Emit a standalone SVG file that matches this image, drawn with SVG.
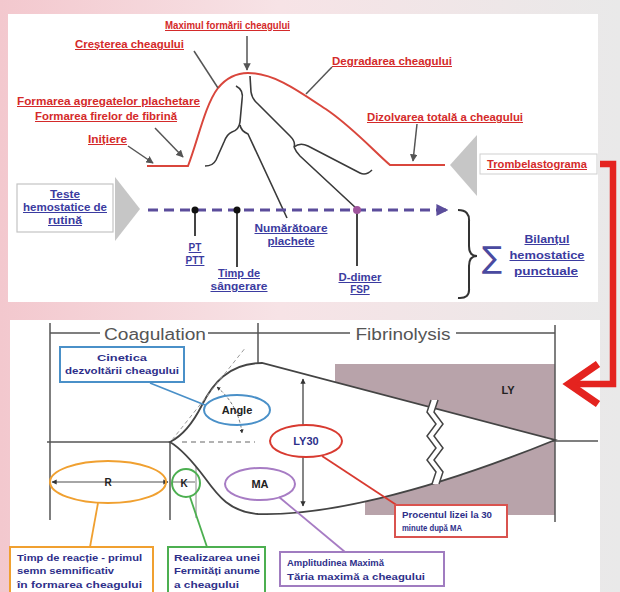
<svg xmlns="http://www.w3.org/2000/svg" width="620" height="592" viewBox="0 0 620 592">
<defs>
<linearGradient id="bg" x1="0" y1="0" x2="1" y2="0">
<stop offset="0" stop-color="#f3c8ce"/>
<stop offset="0.45" stop-color="#f7e3e6"/>
<stop offset="1" stop-color="#e9e9e9"/>
</linearGradient>
<marker id="ah" viewBox="0 0 10 10" refX="9" refY="5" markerWidth="5" markerHeight="5" orient="auto-start-reverse"><path d="M0,0 L10,5 L0,10 z" fill="#555"/></marker>
<marker id="ahs" viewBox="0 0 10 10" refX="9" refY="5" markerWidth="4" markerHeight="4" orient="auto-start-reverse"><path d="M0,0 L10,5 L0,10 z" fill="#333"/></marker>
<marker id="ahb" viewBox="0 0 10 10" refX="8" refY="5" markerWidth="4" markerHeight="4" orient="auto"><path d="M0,0 L10,5 L0,10 z" fill="#5b4d9b"/></marker>
</defs>
<style>
text{font-family:"Liberation Sans",Arial,sans-serif}
.rl{font-weight:bold;font-size:10px;fill:#d42a2a;text-decoration:underline}
.bl{font-weight:bold;font-size:10px;fill:#3b3ba0;text-decoration:underline;text-anchor:middle}
.nv{font-weight:bold;font-size:9.5px;fill:#2e2f8a}
.el{font-weight:bold;font-size:11px;fill:#222;text-anchor:middle}
.hd{font-size:16px;fill:#555;text-anchor:middle}
.lead{stroke:#555;stroke-width:1.5;fill:none}
.dk{stroke:#3a3a3a;stroke-width:1.6;fill:none}
.ax{stroke:#555;stroke-width:1.5;fill:none}
.thin{stroke:#888;stroke-width:1;fill:none}
</style>

<!-- background -->
<rect x="0" y="0" width="620" height="592" fill="url(#bg)"/>
<rect x="8" y="14" width="590" height="288" fill="#ffffff"/>
<rect x="10" y="320" width="590" height="272" fill="#ffffff"/>

<!-- top: red TEG curve -->
<g id="teg-top">
<path d="M147,166 L188,166 C198,140 205,105 218,88 C228,76 238,73 248,73 C275,73 300,92 330,112 C355,130 375,152 390,165 L445,165" fill="none" stroke="#d9463c" stroke-width="2"/>
<path class="dk" d="M236,86 Q244,90 242,100 L240,122 Q239,130 232,132 Q227,134 224,142 L216,160 Q213,166 205,166"/>
<path class="dk" d="M240,125 Q241,131 248,134 L287,218"/>
<path class="dk" d="M250,76 L251,92 Q252,99 258,104 L290,136 Q296,142 294,147"/>
<path class="dk" d="M294,147 Q300,142 308,146 L360,173 Q366,176 372,170"/>
<path class="dk" d="M294,147 Q296,152 300,156 L357,209"/>
</g>

<g id="lbl-maximul">
<text class="rl" x="165" y="29" textLength="125" lengthAdjust="spacingAndGlyphs">Maximul formării cheagului</text>
<line class="lead" x1="247" y1="36" x2="247" y2="70" marker-end="url(#ah)"/>
</g>
<g id="lbl-crestere">
<text class="rl" x="75" y="48" textLength="109" lengthAdjust="spacingAndGlyphs">Creșterea cheagului</text>
<line class="lead" x1="194" y1="51" x2="218" y2="88"/>
</g>
<g id="lbl-formarea">
<text class="rl" x="17" y="105" textLength="183" lengthAdjust="spacingAndGlyphs">Formarea agregatelor plachetare</text>
<text class="rl" x="35" y="120" textLength="142" lengthAdjust="spacingAndGlyphs">Formarea firelor de fibrină</text>
<line class="lead" x1="155" y1="128" x2="183" y2="157" marker-end="url(#ah)"/>
</g>
<g id="lbl-initiere">
<text class="rl" x="88" y="143" textLength="39" lengthAdjust="spacingAndGlyphs">Inițiere</text>
<line class="lead" x1="128" y1="146" x2="153" y2="163" marker-end="url(#ah)"/>
</g>
<g id="lbl-degradare">
<text class="rl" x="332" y="65" textLength="120" lengthAdjust="spacingAndGlyphs">Degradarea cheagului</text>
<line class="lead" x1="332" y1="67" x2="306" y2="94"/>
</g>
<g id="lbl-dizolvare">
<text class="rl" x="367" y="121" textLength="156" lengthAdjust="spacingAndGlyphs">Dizolvarea totală a cheagului</text>
<line class="lead" x1="417" y1="124" x2="413" y2="161" marker-end="url(#ah)"/>
</g>
<g id="trombelastograma">
<polygon points="450,165 477,135 477,196" fill="#c6c6c6"/>
<rect x="480" y="154" width="117" height="20" fill="#fff" stroke="#cfcfcf" stroke-width="1"/>
<text class="rl" x="487" y="168" textLength="100" lengthAdjust="spacingAndGlyphs">Trombelastograma</text>
</g>

<g id="teste-rutina">
<rect x="17" y="184" width="96" height="48" fill="#fff" stroke="#c4c4c4" stroke-width="1.2"/>
<polygon points="115,177 140,209 115,241" fill="#c6c6c6"/>
<text class="bl" x="65" y="198" textLength="30" lengthAdjust="spacingAndGlyphs">Teste</text>
<text class="bl" x="65" y="211" textLength="84" lengthAdjust="spacingAndGlyphs">hemostatice de</text>
<text class="bl" x="65" y="224" textLength="34" lengthAdjust="spacingAndGlyphs">rutină</text>
</g>

<g id="connectors-top">
<line x1="148" y1="210" x2="446" y2="210" stroke="#5b4d9b" stroke-width="3" stroke-dasharray="10 6" marker-end="url(#ahb)"/>
<line x1="195" y1="212" x2="195" y2="236" stroke="#444" stroke-width="2"/>
<line x1="237" y1="212" x2="237" y2="267" stroke="#444" stroke-width="2"/>
<line x1="357" y1="212" x2="357" y2="266" stroke="#444" stroke-width="2"/>
<circle cx="195" cy="210" r="3.5" fill="#111"/>
<circle cx="237" cy="210" r="3.5" fill="#111"/>
<circle cx="357" cy="210" r="4" fill="#a0559e"/>
<path d="M600,164 L613,164 L613,384 L572,384" fill="none" stroke="#e4231f" stroke-width="6.5"/>
<path d="M598,364 L569,384 L598,404" fill="none" stroke="#e4231f" stroke-width="7.5"/>
</g>

<g id="lbl-pt"><text class="bl" x="195" y="251">PT</text><text class="bl" x="195" y="264">PTT</text></g>
<g id="lbl-timp"><text class="bl" x="239" y="277" textLength="42" lengthAdjust="spacingAndGlyphs">Timp de</text><text class="bl" x="239" y="290" textLength="57" lengthAdjust="spacingAndGlyphs">sângerare</text></g>
<g id="lbl-numaratoare"><text class="bl" x="291" y="232" textLength="73" lengthAdjust="spacingAndGlyphs">Numărătoare</text><text class="bl" x="291" y="245" textLength="47" lengthAdjust="spacingAndGlyphs">plachete</text></g>
<g id="lbl-ddimer"><text class="bl" x="360" y="281" textLength="43" lengthAdjust="spacingAndGlyphs">D-dimer</text><text class="bl" x="360" y="293">FSP</text></g>

<g id="suma">
<path d="M458,210 Q470,210 469,222 L469,246 Q469,256 477,256 Q469,256 469,266 L469,288 Q470,299 458,298" fill="none" stroke="#333" stroke-width="2"/>
<text x="492" y="268" style="font-family:'DejaVu Sans',sans-serif" font-size="30" fill="#4a4aa0" text-anchor="middle">∑</text>
<text class="bl" x="547" y="243" textLength="45" lengthAdjust="spacingAndGlyphs">Bilanțul</text>
<text class="bl" x="547" y="259" textLength="75" lengthAdjust="spacingAndGlyphs">hemostatice</text>
<text class="bl" x="546" y="275" textLength="64" lengthAdjust="spacingAndGlyphs">punctuale</text>
</g>

<!-- bottom: classic TEG -->
<g id="shading">
<rect x="335" y="364" width="220" height="76" fill="#b8a3aa"/>
<rect x="365" y="440" width="190" height="75" fill="#b8a3aa"/>
</g>

<g id="axes">
<line class="ax" x1="50" y1="333" x2="555" y2="333"/>
<line class="ax" x1="50" y1="323" x2="50" y2="520"/>
<line class="ax" x1="258" y1="323" x2="258" y2="512" marker-end="url(#ahs)"/>
<line class="ax" x1="555" y1="325" x2="555" y2="522"/>
<line class="ax" x1="47" y1="442" x2="172" y2="442"/>
<line class="ax" x1="548" y1="441" x2="598" y2="441"/>
<line class="ax" x1="170" y1="442" x2="170" y2="520"/>
<line class="thin" x1="196" y1="462" x2="196" y2="518"/>
<rect x="100" y="324" width="108" height="18" fill="#fff"/>
<text class="hd" x="155" y="340" textLength="102" lengthAdjust="spacingAndGlyphs">Coagulation</text>
<rect x="350" y="324" width="106" height="18" fill="#fff"/>
<text class="hd" x="403" y="340" textLength="95" lengthAdjust="spacingAndGlyphs">Fibrinolysis</text>
</g>

<g id="teg-shape">
<path d="M170,442 C182,436 192,425 202,405 C212,385 228,363 262,363 L555,440 C420,495 320,516 258,514 C230,512 218,496 205,478 C190,458 180,448 170,442 Z" fill="#fff" stroke="#444" stroke-width="1.8"/>
<line x1="182" y1="442" x2="255" y2="442" stroke="#999" stroke-width="1.3" stroke-dasharray="5 4"/>
<line x1="172" y1="440" x2="246" y2="347" stroke="#999" stroke-width="1" stroke-dasharray="4 3"/>
<path d="M217,387 A70,70 0 0 1 242,433" fill="none" stroke="#777" stroke-width="1" stroke-dasharray="3 2" marker-start="url(#ahs)" marker-end="url(#ahs)"/>
<line x1="303" y1="379" x2="303" y2="506" stroke="#444" stroke-width="1.3" marker-start="url(#ahs)" marker-end="url(#ahs)"/>
<polygon points="431,400 427,412 436,424 427,436 436,448 427,460 436,472 432,484 439,484 443,472 434,460 443,448 434,436 443,424 434,412 438,400" fill="#fff"/>
<polyline points="431,400 427,412 436,424 427,436 436,448 427,460 436,472 432,484" fill="none" stroke="#444" stroke-width="1.5"/>
<polyline points="438,400 434,412 443,424 434,436 443,448 434,460 443,472 439,484" fill="none" stroke="#444" stroke-width="1.5"/>
<text class="el" x="508" y="394" font-size="10">LY</text>
</g>

<g id="angle">
<rect x="60" y="347" width="124" height="35" fill="#fff" stroke="#4a90c8" stroke-width="2"/>
<text class="nv" x="122" y="361" text-anchor="middle" textLength="50" lengthAdjust="spacingAndGlyphs">Cinetica</text>
<text class="nv" x="122" y="374" text-anchor="middle" textLength="114" lengthAdjust="spacingAndGlyphs">dezvoltării cheagului</text>
<line x1="150" y1="383" x2="205" y2="405" stroke="#4a90c8" stroke-width="1.8"/>
<ellipse cx="237" cy="410" rx="33" ry="15" fill="none" stroke="#4a90c8" stroke-width="2"/>
<text class="el" x="237" y="414">Angle</text>
</g>

<g id="ly30">
<ellipse cx="306" cy="441" rx="36" ry="16" fill="#fff" stroke="#d83a30" stroke-width="2"/>
<text class="el" x="306" y="445" style="fill:#2e2f8a">LY30</text>
<line x1="322" y1="456" x2="398" y2="506" stroke="#d83a30" stroke-width="1.8"/>
<rect x="395" y="505" width="112" height="32" fill="#fff" stroke="#d9534f" stroke-width="2"/>
<text class="nv" x="402" y="518" style="font-size:8.5px" textLength="90" lengthAdjust="spacingAndGlyphs">Procentul lizei la 30</text>
<text class="nv" x="402" y="531" style="font-size:8.5px" textLength="60" lengthAdjust="spacingAndGlyphs">minute după MA</text>
</g>

<g id="ma">
<ellipse cx="260" cy="484" rx="35" ry="16" fill="#fff" stroke="#a77cc4" stroke-width="2"/>
<text class="el" x="260" y="488">MA</text>
<line x1="279" y1="497" x2="345" y2="552" stroke="#a77cc4" stroke-width="1.8"/>
<rect x="280" y="552" width="164" height="34" fill="#fff" stroke="#a07cc0" stroke-width="2"/>
<text class="nv" x="287" y="566" textLength="97" lengthAdjust="spacingAndGlyphs">Amplitudinea Maximă</text>
<text class="nv" x="287" y="580" textLength="138" lengthAdjust="spacingAndGlyphs">Tăria maximă a cheagului</text>
</g>

<g id="r">
<line x1="52" y1="482" x2="168" y2="482" stroke="#888" stroke-width="1.3" marker-start="url(#ahs)" marker-end="url(#ahs)"/>
<ellipse cx="108" cy="482" rx="58" ry="21" fill="none" stroke="#f0a030" stroke-width="2"/>
<text class="el" x="108" y="486" style="font-size:10px">R</text>
<line x1="98" y1="503" x2="90" y2="547" stroke="#f0a030" stroke-width="1.8"/>
<rect x="10" y="547" width="143" height="50" fill="#fff" stroke="#f0a030" stroke-width="2"/>
<text class="nv" x="17" y="561" textLength="125" lengthAdjust="spacingAndGlyphs">Timp de reacție - primul</text>
<text class="nv" x="17" y="574" textLength="97" lengthAdjust="spacingAndGlyphs">semn semnificativ</text>
<text class="nv" x="17" y="588" textLength="125" lengthAdjust="spacingAndGlyphs">în formarea cheagului</text>
</g>

<g id="k">
<line x1="172" y1="482" x2="195" y2="482" stroke="#888" stroke-width="1.3"/>
<circle cx="186" cy="483" r="14" fill="none" stroke="#4caf50" stroke-width="2"/>
<text class="el" x="184" y="487" style="font-size:10px">K</text>
<line x1="190" y1="497" x2="207" y2="547" stroke="#4caf50" stroke-width="1.8"/>
<rect x="168" y="547" width="97" height="50" fill="#fff" stroke="#4caf50" stroke-width="2"/>
<text class="nv" x="174" y="561" textLength="86" lengthAdjust="spacingAndGlyphs">Realizarea unei</text>
<text class="nv" x="174" y="574" textLength="86" lengthAdjust="spacingAndGlyphs">Fermități anume</text>
<text class="nv" x="174" y="588" textLength="65" lengthAdjust="spacingAndGlyphs">a cheagului</text>
</g>
</svg>
